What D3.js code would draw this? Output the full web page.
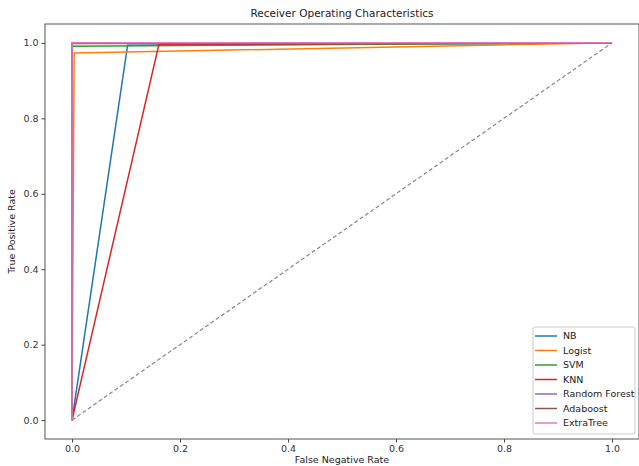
<!DOCTYPE html>
<html>
<head>
<meta charset="utf-8">
<script src="https://cdn.jsdelivr.net/npm/d3@7"></script>
<style>
  body { margin: 0; background: #fff; }
  svg { font-family: "DejaVu Sans", sans-serif; }
</style>
</head>
<body>
<svg id="roc" width="639" height="466"></svg>
<script>
(function () {
    // ROC curve points
    var models = ["NB", "Logist", "SVM", "KNN", "Random Forest", "Adaboost", "ExtraTree"];
    var nbFpr = [0, 0.103, 1], nbTpr = [0, 0.994, 1];
    var logFpr = [0, 0.004, 1], logTpr = [0, 0.973, 1];
    var svmFpr = [0, 0, 1], svmTpr = [0, 0.991, 1];
    var knnFpr = [0, 0.161, 1], knnTpr = [0, 0.996, 1];
    var rfFpr = [0, 0, 1], rfTpr = [0, 1, 1];
    var adaFpr = [0, 0, 1], adaTpr = [0, 0.998, 1];
    var etFpr = [0, 0, 1], etTpr = [0, 1, 1];
    var chanceLine = [0, 1];
    var ticks = [0, 0.2, 0.4, 0.6, 0.8, 1.0];

    var series = [
        [nbFpr, nbTpr], [logFpr, logTpr], [svmFpr, svmTpr], [knnFpr, knnTpr],
        [rfFpr, rfTpr], [adaFpr, adaTpr], [etFpr, etTpr]
    ];

    var color = d3.scaleOrdinal()
        .domain(models)
        .range(["#1f77b4", "#ff7f0e", "#2ca02c", "#d62728", "#9467bd", "#8c564b", "#e377c2"]);

    var left = 45, right = 639, top = 24, bottom = 439;

    var x = d3.scaleLinear().domain([-0.05, 1.05]).range([left, right]);
    var y = d3.scaleLinear().domain([-0.05, 1.05]).range([bottom, top]);

    var svg = d3.select("#roc");

    var line = d3.line()
        .x(function (d) { return x(d[0]); })
        .y(function (d) { return y(d[1]); });

    // dashed chance diagonal
    svg.append("path")
        .attr("d", line(chanceLine.map(function (v) { return [v, v]; })))
        .attr("fill", "none")
        .attr("stroke", "#888")
        .attr("stroke-width", 1.2)
        .attr("stroke-dasharray", "4,2.5");

    svg.selectAll("path.roc")
        .data(series)
        .join("path")
        .attr("class", "roc")
        .attr("fill", "none")
        .attr("stroke", function (d, i) { return color(models[i]); })
        .attr("stroke-width", 1.5)
        .attr("d", function (d) {
            return line(d[0].map(function (v, j) { return [v, d[1][j]]; }));
        });

    // axes
    var xAxis = svg.append("g")
        .attr("transform", "translate(0," + bottom + ")")
        .call(d3.axisBottom(x).tickValues(ticks).tickFormat(d3.format(".1f")).tickSize(3.5).tickPadding(3));
    var yAxis = svg.append("g")
        .attr("transform", "translate(" + left + ",0)")
        .call(d3.axisLeft(y).tickValues(ticks).tickFormat(d3.format(".1f")).tickSize(3.5).tickPadding(3));

    [xAxis, yAxis].forEach(function (g) {
        g.select(".domain").remove();
        g.selectAll("line").attr("stroke", "#444");
        g.selectAll("text").attr("fill", "#333").style("font-size", "9.5px").style("font-family", "DejaVu Sans");
    });

    // frame
    svg.append("rect")
        .attr("x", left).attr("y", top)
        .attr("width", right - left).attr("height", bottom - top)
        .attr("fill", "none").attr("stroke", "#555").attr("stroke-width", 1);

    // titles
    svg.append("text")
        .attr("x", (left + right) / 2).attr("y", 17)
        .attr("text-anchor", "middle")
        .attr("fill", "#222").style("font-size", "10.5px")
        .text("Receiver Operating Characteristics");
    svg.append("text")
        .attr("x", (left + right) / 2).attr("y", 463)
        .attr("text-anchor", "middle")
        .attr("fill", "#222").style("font-size", "9.5px")
        .text("False Negative Rate");
    svg.append("text")
        .attr("transform", "translate(15," + (top + bottom) / 2 + ") rotate(-90)")
        .attr("text-anchor", "middle")
        .attr("fill", "#222").style("font-size", "9.5px")
        .text("True Positive Rate");

    // legend
    var legend = svg.append("g").attr("transform", "translate(533,327)");
    legend.append("rect")
        .attr("width", 102).attr("height", 107)
        .attr("rx", 2)
        .attr("fill", "#fff").attr("fill-opacity", 0.8)
        .attr("stroke", "#ccc");
    var item = legend.selectAll("g.item")
        .data(models)
        .join("g")
        .attr("class", "item")
        .attr("transform", function (d, i) { return "translate(0," + (9 + i * 14.5) + ")"; });
    item.append("line")
        .attr("x1", 2).attr("x2", 24)
        .attr("stroke", function (d) { return color(d); })
        .attr("stroke-width", 1.5);
    item.append("text")
        .attr("x", 30).attr("dy", "0.35em")
        .attr("fill", "#222").style("font-size", "9.5px")
        .text(function (d) { return d; });
})();
</script>
</body>
</html>
